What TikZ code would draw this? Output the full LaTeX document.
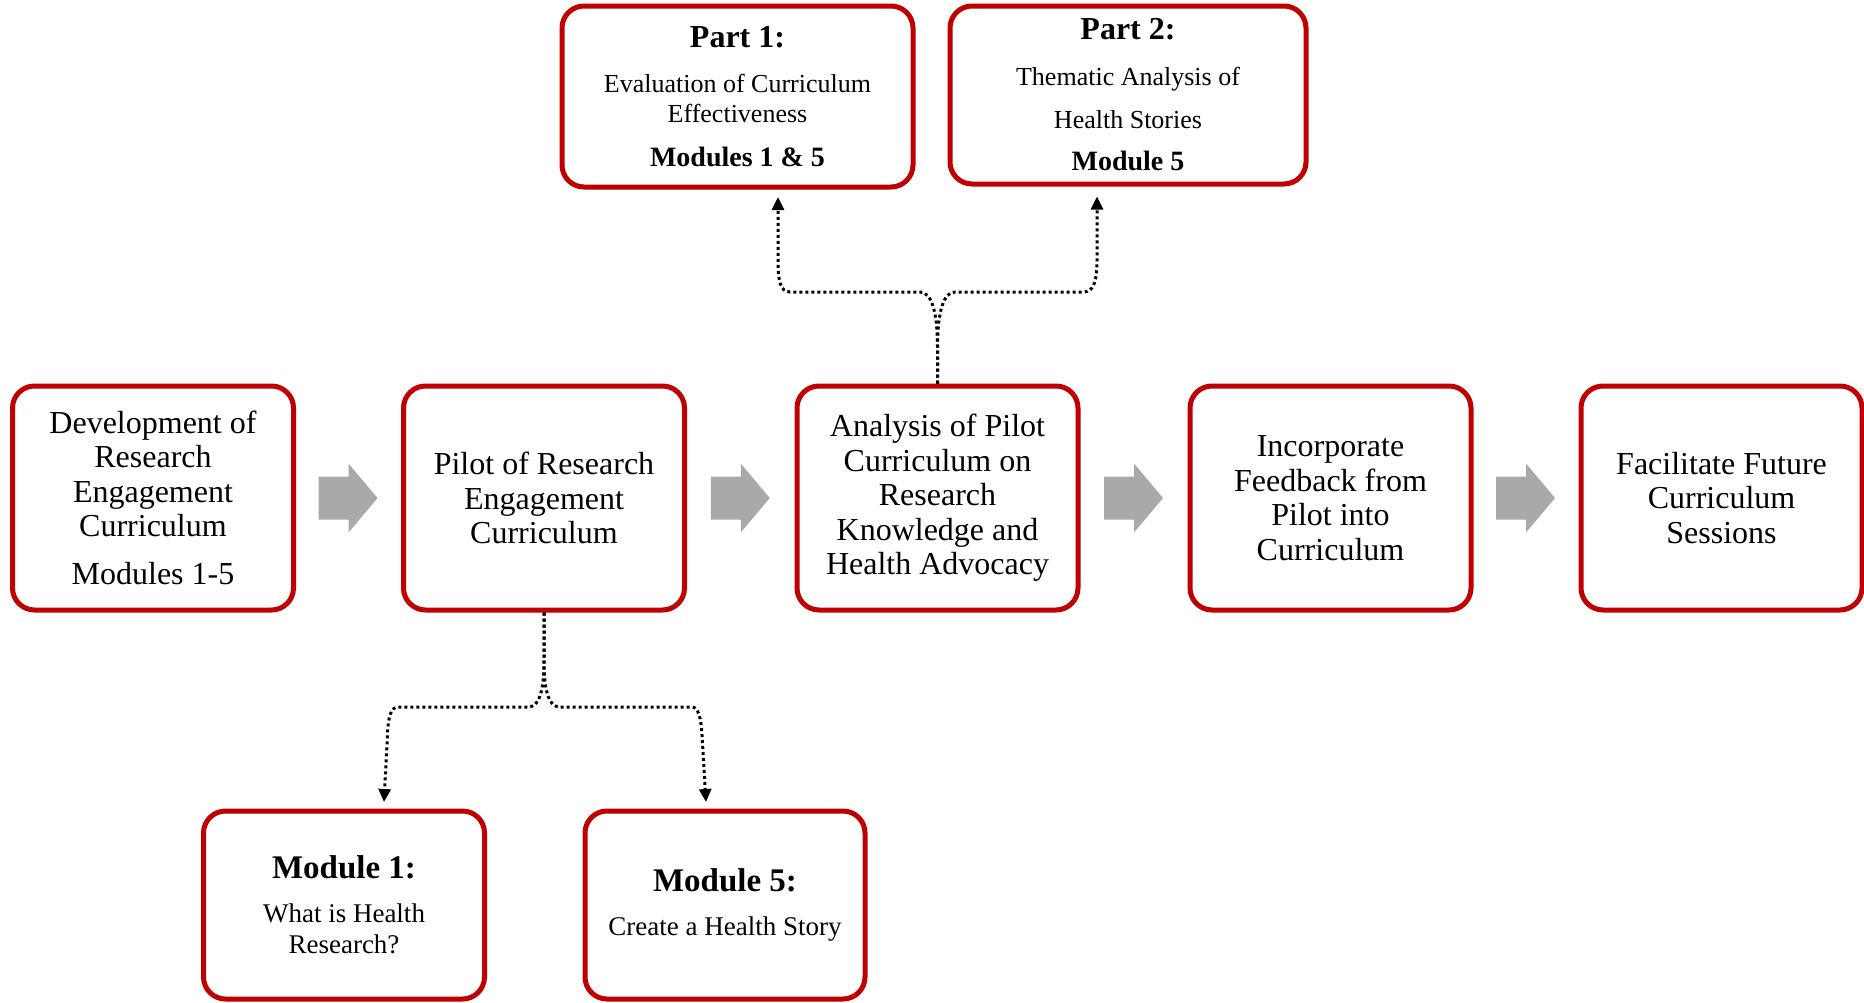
\documentclass[tikz,border=0pt]{standalone}
\usepackage{fontspec}
\setmainfont{Liberation Serif}
\usetikzlibrary{arrows.meta,calc}
\definecolor{boxred}{HTML}{C00000}
\definecolor{arrgray}{HTML}{A9A9A9}
\begin{document}
\begin{tikzpicture}[x=1pt,y=-1pt,
  box/.style={draw=boxred, line width=5pt, rounded corners=22pt, fill=white, align=center, inner sep=0pt, text=black},
  mainbox/.style={box, minimum width=281pt, minimum height=224pt, font=\fontsize{32}{34.5}\selectfont},
  topbox/.style={box, minimum height=180pt, font=\fontsize{26}{30}\selectfont},
  modbox/.style={box, minimum width=281pt, minimum height=188pt, font=\fontsize{27}{31}\selectfont},
  conn/.style={line width=3pt, dash pattern=on 3pt off 3pt, -{Triangle[length=13pt,width=12pt]}},
  grayarrow/.pic={\fill[arrgray] (-30,-21.5) -- (0,-21.5) -- (0,-34.5) -- (29,0) -- (0,34.5) -- (0,21.5) -- (-30,21.5) -- cycle;}
]
\useasboundingbox (0,0) rectangle (1864,1002);

% main row
\node[mainbox] (b1) at (153,498) {Development of\\Research\\Engagement\\Curriculum\\[13.5pt]Modules 1-5};
\node[mainbox] (b2) at (544,498) {Pilot of Research\\Engagement\\Curriculum};
\node[mainbox] (b3) at (937.5,498) {Analysis of Pilot\\Curriculum on\\Research\\Knowledge and\\Health Advocacy};
\node[mainbox] (b4) at (1330.5,498) {Incorporate\\Feedback from\\Pilot into\\Curriculum};
\node[mainbox] (b5) at (1721.5,498) {Facilitate Future\\Curriculum\\Sessions};

% top boxes
\node[topbox, minimum width=351pt, minimum height=181pt] (p1) at (737.5,96.5)
  {{\fontsize{32}{36}\selectfont\bfseries Part 1:}\\[15pt]Evaluation of Curriculum\\Effectiveness\\[14pt]{\fontsize{28}{30}\selectfont\bfseries Modules 1 \& 5}};
\node[topbox, minimum width=356pt, minimum height=178pt] (p2) at (1128,95)
  {{\fontsize{32}{36}\selectfont\bfseries Part 2:}\\[16pt]Thematic Analysis of\\[13pt]Health Stories\\[12pt]{\fontsize{28}{30}\selectfont\bfseries Module 5}};

% bottom boxes
\node[modbox] (m1) at (344,905)
  {{\fontsize{33}{36}\selectfont\bfseries Module 1:}\\[13pt]What is Health\\Research?};
\node[modbox, minimum width=280pt] (m5) at (725,905)
  {{\fontsize{33}{36}\selectfont\bfseries Module 5:}\\[13.5pt]Create a Health Story};

% gray block arrows
\pic at ($(b1.east)!0.5!(b2.west)$) {grayarrow};
\pic at ($(b2.east)!0.5!(b3.west)$) {grayarrow};
\pic at ($(b3.east)!0.5!(b4.west)$) {grayarrow};
\pic at ($(b4.east)!0.5!(b5.west)$) {grayarrow};

% arrow end points
\coordinate (t1) at ([xshift=40.5pt,yshift=-7.5pt]p1.south);
\coordinate (t2) at ([xshift=-31pt,yshift=-10pt]p2.south);
\coordinate (t3) at ([xshift=40pt,yshift=6.5pt]m1.north);
\coordinate (t4) at ([xshift=-19pt,yshift=6.5pt]m5.north);

% dotted connectors (top)
\draw[conn] (b3.north) -- (937.5,348) .. controls (937.5,310) and (931,292) .. (920,292)
  -- (790,292) .. controls (780,292) and (778,280) .. (778,260) -- (t1);
\draw[conn] (b3.north) -- (937.5,348) .. controls (937.5,310) and (944,292) .. (955,292)
  -- (1084,292) .. controls (1094,292) and (1097,280) .. (1097,260) -- (t2);

% dotted connectors (bottom)
\draw[conn] (b2.south) -- (544,660) .. controls (544,695) and (538,707) .. (528,707)
  -- (398,707) .. controls (391,707) and (388,717) .. (387.5,735) -- (t3);
\draw[conn] (b2.south) -- (544,660) .. controls (544,695) and (550,707) .. (560,707)
  -- (692,707) .. controls (698,707) and (701,717) .. (702,735) -- (t4);
\end{tikzpicture}
\end{document}
